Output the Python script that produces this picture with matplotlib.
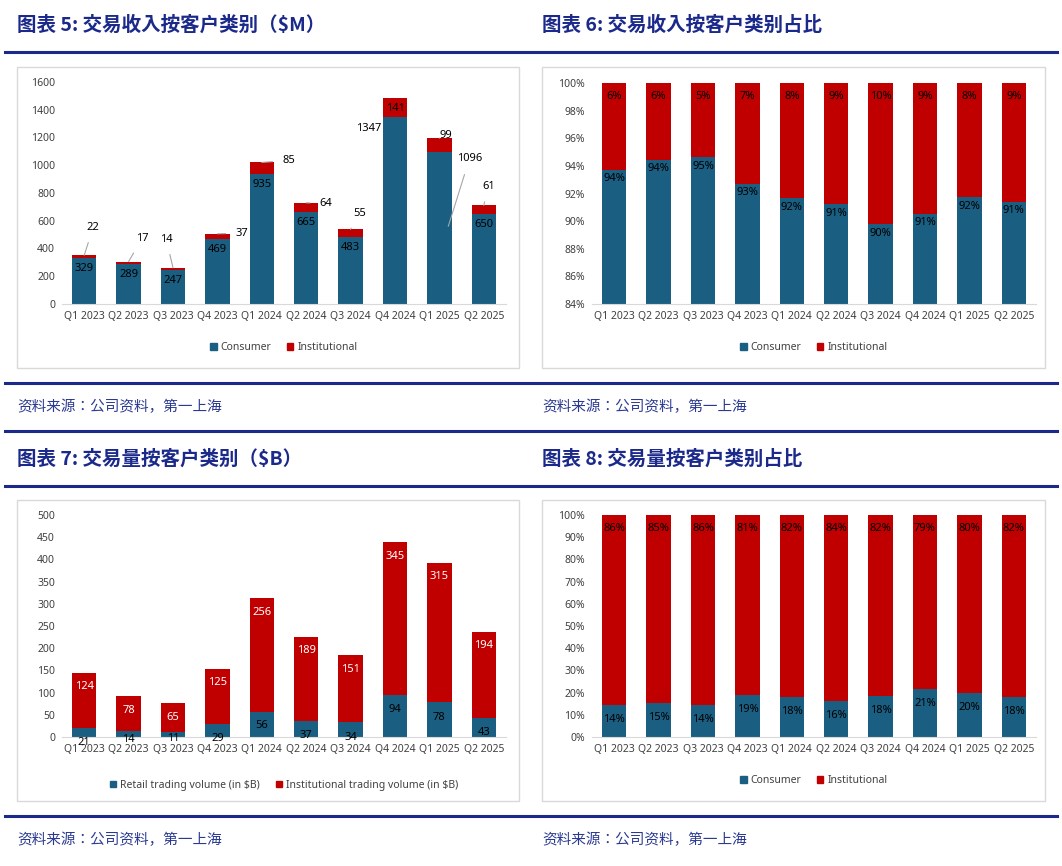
import matplotlib
matplotlib.use("Agg")
import matplotlib.pyplot as plt
from matplotlib.patches import Rectangle
import numpy as np

quarters = ["Q1 2023", "Q2 2023", "Q3 2023", "Q4 2023", "Q1 2024",
            "Q2 2024", "Q3 2024", "Q4 2024", "Q1 2025", "Q2 2025"]
rev_consumer = [329, 289, 247, 469, 935, 665, 483, 1347, 1096, 650]
rev_institutional = [22, 17, 14, 37, 85, 64, 55, 141, 99, 61]
vol_retail = [21, 14, 11, 29, 56, 37, 34, 94, 78, 43]
vol_institutional = [124, 78, 65, 125, 256, 189, 151, 345, 315, 194]

BLUE = "#1a5f82"
RED = "#c00000"
NAVY = "#1b2a8a"
CJK = ["Noto Sans CJK SC", "Noto Sans CJK JP", "Noto Sans CJK TC", "Noto Sans CJK KR", "DejaVu Sans"]
TXT = "Noto Sans"

W, H = 1062, 866
fig = plt.figure(figsize=(W / 100, H / 100), dpi=100)

def fx(x): return x / W
def fy(y): return 1 - y / H

def hline(y, x0, x1):
    fig.add_artist(plt.Line2D([fx(x0), fx(x1)], [fy(y), fy(y)], color=NAVY, lw=2.2))

def box(x0, y0, x1, y1):
    fig.add_artist(Rectangle((fx(x0), fy(y1)), fx(x1 - x0), (y1 - y0) / H,
                             fill=False, ec="#d9d9d9", lw=1))

def title(x, y, s):
    fig.text(fx(x), fy(y), s, fontsize=14, fontweight="bold", color=NAVY,
             family=CJK, va="center")

def source(x, y):
    fig.text(fx(x), fy(y), "资料来源：公司资料，第一上海", fontsize=10.5,
             color="#2b3a90", family=CJK, va="center")

def make_ax(x0, y0, x1, y1):
    ax = fig.add_axes([fx(x0), fy(y1), fx(x1 - x0), (y1 - y0) / H])
    for s in ["top", "right", "left"]:
        ax.spines[s].set_visible(False)
    ax.spines["bottom"].set_color("#d9d9d9")
    ax.tick_params(length=0, labelsize=7.5, colors="#404040", pad=5)
    return ax

x = np.arange(len(quarters))
bw = 0.55

title(17, 25, "图表 5: 交易收入按客户类别（$M）")
title(542, 25, "图表 6: 交易收入按客户类别占比")
title(17, 459, "图表 7: 交易量按客户类别（$B）")
title(542, 459, "图表 8: 交易量按客户类别占比")
for y in [52, 383, 431, 486, 816]:
    hline(y, 5, 1057)
for yy in [407, 840]:
    source(17, yy)
    source(542, yy)
box(17, 67, 519, 368); box(542, 67, 1045, 368)
box(17, 500, 519, 801); box(542, 500, 1045, 801)

def legend(ax, labels, y):
    h = [Rectangle((0, 0), 1, 1, color=BLUE), Rectangle((0, 0), 1, 1, color=RED)]
    ax.legend(h, labels, loc="upper center", bbox_to_anchor=(0.5, y), ncol=2,
              frameon=False, handlelength=0.6, handleheight=0.6,
              prop={"family": TXT, "size": 7.5}, columnspacing=1.5, handletextpad=0.4,
              labelcolor="#404040")

def xt(ax):
    ax.set_xticks(x)
    ax.set_xticklabels(quarters, family=TXT, fontsize=7.5)
    ax.set_xlim(-0.5, len(quarters) - 0.5)
    for t in ax.get_yticklabels():
        t.set_family(TXT)

# ---- Panel 1
ax1 = make_ax(62, 82, 506, 304)
ax1.bar(x, rev_consumer, bw, color=BLUE)
ax1.bar(x, rev_institutional, bw, bottom=rev_consumer, color=RED)
ax1.set_ylim(0, 1600)
ax1.set_yticks(range(0, 1601, 200))
xt(ax1)
for i, v in enumerate(rev_consumer):
    if i == 7:
        ax1.text(i - 0.6, 1245, str(v), ha="center", fontsize=8, family=TXT)
    elif i == 8:
        pass
    else:
        ax1.text(i, v - 75, str(v), ha="center", va="center", fontsize=8, family=TXT)
inst_lab = [(0.2, 550), (0.3, 470), (-0.15, 465), (0.55, 510), (0.6, 1035),
            (0.45, 725), (0.2, 650), (0, 1410), (0.15, 1215), (0.1, 845)]
for i, (dx, ly) in enumerate(inst_lab):
    top = rev_consumer[i] + rev_institutional[i]
    if i == 7:
        ax1.text(i, ly, str(rev_institutional[i]), ha="center", va="center", fontsize=8, family=TXT)
        continue
    ax1.annotate(str(rev_institutional[i]), xy=(i, top), xytext=(i + dx, ly),
                 ha="center", va="center", fontsize=8, family=TXT,
                 arrowprops=dict(arrowstyle="-", color="#a6a6a6", lw=0.8,
                                 shrinkA=5, shrinkB=0))
ax1.annotate(str(rev_consumer[8]), xy=(8.2, 560), xytext=(8.68, 1050),
             ha="center", va="center", fontsize=8, family=TXT,
             arrowprops=dict(arrowstyle="-", color="#a6a6a6", lw=0.8, shrinkA=6, shrinkB=0))
legend(ax1, ["Consumer", "Institutional"], -0.13)

# ---- Panel 2
tot = np.array(rev_consumer) + np.array(rev_institutional)
cp = np.array(rev_consumer) / tot * 100
ax2 = make_ax(592, 83, 1036, 304)
ax2.bar(x, cp, bw, color=BLUE)
ax2.bar(x, 100 - cp, bw, bottom=cp, color=RED)
ax2.set_ylim(84, 100)
ax2.set_yticks(range(84, 101, 2))
ax2.set_yticklabels([f"{v}%" for v in range(84, 101, 2)])
xt(ax2)
for i, c in enumerate(cp):
    ax2.text(i, c - 0.65, f"{c:.0f}%", ha="center", va="center", fontsize=8, family=TXT)
    ax2.text(i, 99.0, f"{100 - c:.0f}%", ha="center", va="center", fontsize=8, family=TXT)
legend(ax2, ["Consumer", "Institutional"], -0.13)

# ---- Panel 3
ax3 = make_ax(62, 515, 506, 737)
ax3.bar(x, vol_retail, bw, color=BLUE)
ax3.bar(x, vol_institutional, bw, bottom=vol_retail, color=RED)
ax3.set_ylim(0, 500)
ax3.set_yticks(range(0, 501, 50))
xt(ax3)
ax3.tick_params(axis="x", pad=5)
retail_ly = [-12, -5, -3, -3, 25, 3, 0, 62, 45, 10]
for i, v in enumerate(vol_retail):
    ax3.text(i, retail_ly[i], str(v), ha="center", va="center", fontsize=8, family=TXT)
for i, v in enumerate(vol_institutional):
    ax3.text(i, vol_retail[i] + v - 32, str(v), ha="center", va="center",
             fontsize=8, family=TXT, color="white")
legend(ax3, ["Retail trading volume (in $B)", "Institutional trading volume (in $B)"], -0.15)

# ---- Panel 4
vt = np.array(vol_retail) + np.array(vol_institutional)
rp = np.array(vol_retail) / vt * 100
ax4 = make_ax(592, 515, 1036, 737)
ax4.bar(x, rp, bw, color=BLUE)
ax4.bar(x, 100 - rp, bw, bottom=rp, color=RED)
ax4.set_ylim(0, 100)
ax4.set_yticks(range(0, 101, 10))
ax4.set_yticklabels([f"{v}%" for v in range(0, 101, 10)])
xt(ax4)
for i, c in enumerate(rp):
    ax4.text(i, c - 6.5, f"{c:.0f}%", ha="center", va="center", fontsize=8, family=TXT)
    ax4.text(i, 93.7, f"{100 - c:.0f}%", ha="center", va="center", fontsize=8, family=TXT)
legend(ax4, ["Consumer", "Institutional"], -0.13)

fig.savefig("out.png", dpi=100)
